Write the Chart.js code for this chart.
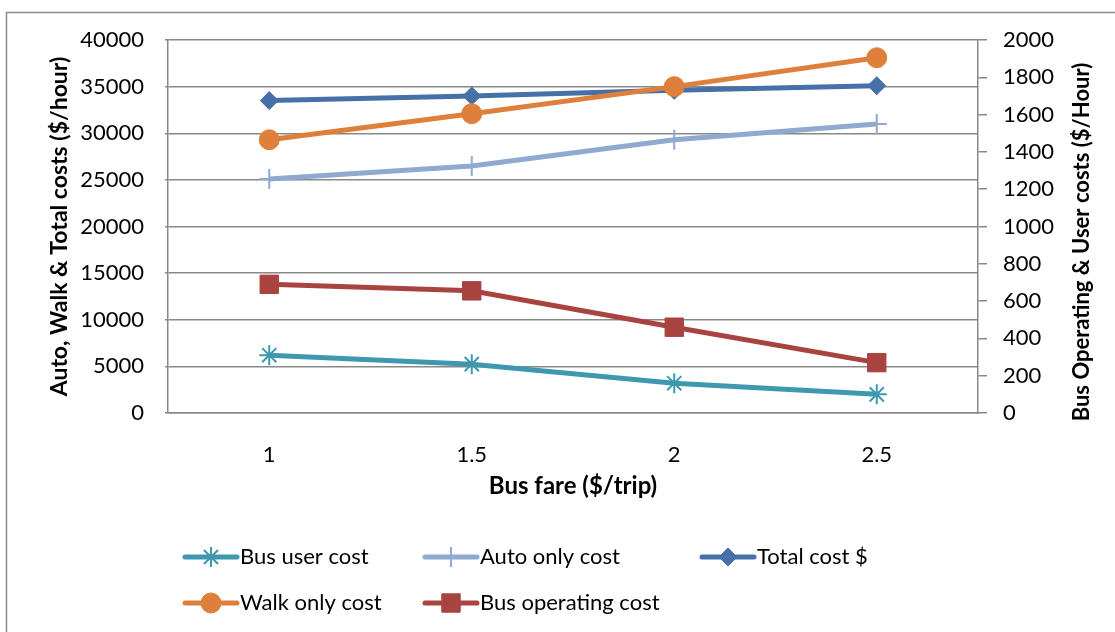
<!DOCTYPE html>
<html lang="en">
<head>
<meta charset="UTF-8">
<title>Bus fare costs</title>
<script src="https://cdn.jsdelivr.net/npm/chart.js"></script>
<style>
  html, body { margin: 0; padding: 0; background: #fff; }
  #wrap { width: 1115px; height: 632px; position: relative; }
</style>
</head>
<body>
<div id="wrap"><canvas id="chart"></canvas></div>
<script>
const fares = ['1', '1.5', '2', '2.5'];
const busUserCost = [310, 262, 160, 100];
const autoOnlyCost = [25100, 26500, 29300, 31000];
const totalCost = [33500, 34000, 34600, 35100];
const walkOnlyCost = [29300, 32100, 35000, 38100];
const busOperatingCost = [690, 655, 460, 270];

const FONT = 'Lato, "Open Sans", sans-serif';
const GRID = '#888888';

// excel style legend: fixed columns, two rows
const legendSlots = [[185, 557], [425, 557], [702, 557], [185, 603], [425, 603]];

const legendGrid = {
  id: 'legendGrid',
  beforeDraw(chart) {
    const ctx = chart.ctx;
    ctx.save();
    ctx.strokeStyle = '#8c8c8c';
    ctx.lineWidth = 1.5;
    ctx.strokeRect(6.5, 12.5, 1200, 700);
    ctx.restore();
  },
  afterDraw(chart) {
    const ctx = chart.ctx;
    ctx.save();
    chart.data.datasets.forEach((ds, i) => {
      const [x, y] = legendSlots[i];
      ctx.strokeStyle = ds.borderColor;
      ctx.lineWidth = 5;
      ctx.lineCap = 'round';
      ctx.beginPath();
      ctx.moveTo(x, y);
      ctx.lineTo(x + 52, y);
      ctx.stroke();
      ctx.fillStyle = ds.pointBackgroundColor;
      ctx.strokeStyle = ds.pointBorderColor;
      ctx.lineWidth = ds.pointBorderWidth;
      ctx.lineCap = 'butt';
      Chart.helpers.drawPoint(ctx, {
        pointStyle: ds.pointStyle, radius: ds.pointRadius, rotation: 0, borderWidth: ds.pointBorderWidth
      }, x + 26, y);
      ctx.fillStyle = '#000';
      ctx.font = '22px ' + FONT;
      ctx.textBaseline = 'middle';
      ctx.textAlign = 'left';
      ctx.fillText(ds.label, x + 55, y);
    });

    // right axis title reads bottom-to-top like the left one
    ctx.font = 'bold 22px ' + FONT;
    ctx.fillStyle = '#000';
    ctx.translate(1082, 242);
    ctx.rotate(-Math.PI / 2);
    ctx.textAlign = 'center';
    ctx.textBaseline = 'middle';
    ctx.fillText('Bus Operating & User costs ($/Hour)', 0, 0);
    ctx.restore();
  }
};

function series(label, data, color, style, radius, axis, order, extra) {
  return Object.assign({
    label, data, yAxisID: axis, order,
    borderColor: color, backgroundColor: color,
    borderWidth: 5, tension: 0,
    pointStyle: style, pointRadius: radius, pointHoverRadius: radius,
    pointBackgroundColor: color, pointBorderColor: color, pointBorderWidth: 1
  }, extra || {});
}

const plain = v => String(v);

new Chart(document.getElementById('chart'), {
  type: 'line',
  data: {
    labels: fares,
    datasets: [
      series('Bus user cost', busUserCost, '#3d98b0', 'star', 10, 'y1', 5, { pointBorderWidth: 2 }),
      series('Auto only cost', autoOnlyCost, '#8fa9cf', 'cross', 10, 'y', 4, { pointBorderWidth: 2 }),
      series('Total cost $', totalCost, '#4571a8', 'rectRot', 9, 'y', 3),
      series('Walk only cost', walkOnlyCost, '#de803b', 'circle', 10, 'y', 2),
      series('Bus operating cost', busOperatingCost, '#a8433f', 'rect', 13, 'y1', 1)
    ]
  },
  options: {
    responsive: true,
    maintainAspectRatio: false,
    animation: false,
    layout: { padding: { left: 0, right: 0, top: 40, bottom: 120 } },
    plugins: { legend: { display: false }, tooltip: { enabled: false } },
    scales: {
      x: {
        offset: true,
        grid: { display: false },
        border: { display: true, color: GRID, width: 1.5 },
        ticks: { color: '#000', font: { family: FONT, size: 22 }, padding: 21 },
        title: { display: true, text: 'Bus fare ($/trip)', color: '#000',
                 font: { family: FONT, size: 24, weight: 'bold' }, padding: { top: 0, bottom: 11 } },
        afterFit(s) { s.height = 99; }
      },
      y: {
        position: 'left',
        min: 0, max: 40000,
        ticks: { stepSize: 5000, color: '#000', font: { family: FONT, size: 22 }, padding: 21, callback: plain },
        grid: { color: GRID, lineWidth: 1.5, tickLength: 3 },
        border: { display: true, color: GRID, width: 1.5 },
        title: { display: true, text: 'Auto, Walk & Total costs ($/hour)', color: '#000',
                 font: { family: FONT, size: 23, weight: 'bold' }, padding: { top: 46, bottom: 0 } },
        afterFit(s) { s.width = 168; }
      },
      y1: {
        position: 'right',
        min: 0, max: 2000,
        ticks: { stepSize: 200, color: '#000', font: { family: FONT, size: 22 }, padding: 16, callback: plain },
        grid: { drawOnChartArea: false, color: GRID, lineWidth: 1.5, tickLength: 9 },
        border: { display: true, color: GRID, width: 1.5 },
        afterFit(s) { s.width = 137; }
      }
    }
  },
  plugins: [legendGrid]
});
</script>
</body>
</html>
